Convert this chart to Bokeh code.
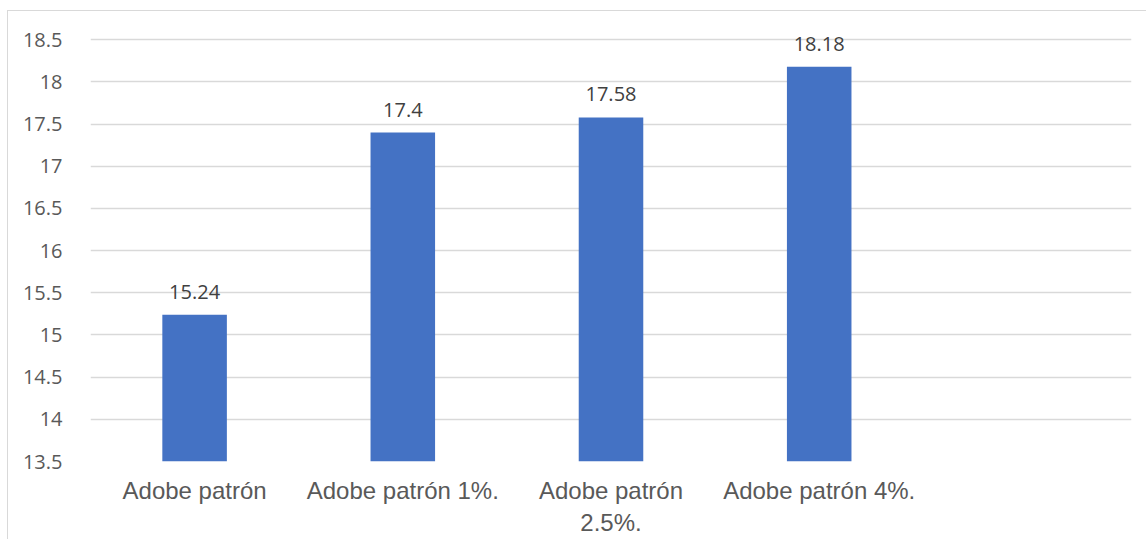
from bokeh.plotting import figure
from bokeh.models import ColumnDataSource, FixedTicker, LabelSet, Range1d
from bokeh.core.properties import value
from bokeh.embed import file_html
from bokeh.resources import INLINE

# Data
categories = ["Adobe patrón", "Adobe patrón 1%.", "Adobe patrón 2.5%.", "Adobe patrón 4%."]
values = [15.24, 17.4, 17.58, 18.18]
tick_labels = ["Adobe patrón", "Adobe patrón 1%.", "Adobe patrón\n2.5%.", "Adobe patrón 4%."]
y_ticks = [13.5, 14, 14.5, 15, 15.5, 16, 16.5, 17, 17.5, 18, 18.5]
n_slots = 5  # one trailing empty slot on the category axis

positions = [i + 0.5 for i in range(len(categories))]
source = ColumnDataSource(data=dict(
    x=positions,
    top=values,
    label=[f"{v:g}" for v in values],
))

# headroom above the last tick so the tallest value label is not clipped
y_end = 18.8

p = figure(
    width=1139, height=529,
    x_range=Range1d(0, n_slots), y_range=Range1d(13.5, y_end),
    output_backend="svg", toolbar_location=None,
    min_border_left=82, min_border_right=16, min_border_top=3, min_border_bottom=79,
)
p.styles = {"border-top": "1.5px solid #d9d9d9", "border-left": "1.5px solid #d9d9d9",
            "margin-left": "7px", "margin-top": "10px"}
p.outline_line_color = None
p.background_fill_color = "white"
p.border_fill_color = "white"

p.vbar(x="x", top="top", bottom=13.5, width=0.31, source=source,
       fill_color="#4472C4", line_color=None)

labels = LabelSet(x="x", y="top", text="label", source=source,
                  text_align="center", text_baseline="alphabetic", y_offset=16,
                  text_font=value("Open Sans"), text_font_size=value("20px"),
                  text_color=value("#404040"))
p.add_layout(labels)

# Y axis
p.yaxis.ticker = FixedTicker(ticks=y_ticks)
p.yaxis.major_label_overrides = {t: f"{t:g}" for t in y_ticks}
p.yaxis.axis_line_color = None
p.yaxis.major_tick_line_color = None
p.yaxis.minor_tick_line_color = None
p.yaxis.major_label_standoff = 22
p.yaxis.major_label_text_font = "Open Sans"
p.yaxis.major_label_text_font_size = "20px"
p.yaxis.major_label_text_color = "#595959"

# X axis
p.xaxis.ticker = FixedTicker(ticks=positions)
p.xaxis.major_label_overrides = {pos: lab for pos, lab in zip(positions, tick_labels)}
p.xaxis.axis_line_color = None
p.xaxis.major_tick_line_color = None
p.xaxis.minor_tick_line_color = None
p.xaxis.major_label_standoff = 9
p.xaxis.major_label_text_font = "Liberation Sans"
p.xaxis.major_label_text_font_size = "24px"
p.xaxis.major_label_text_color = "#595959"

p.xgrid.grid_line_color = None
p.ygrid.ticker = FixedTicker(ticks=y_ticks)
p.ygrid.grid_line_color = "#d9d9d9"
p.ygrid.grid_line_width = 1.5

open("out.html", "w").write(file_html(p, INLINE))
